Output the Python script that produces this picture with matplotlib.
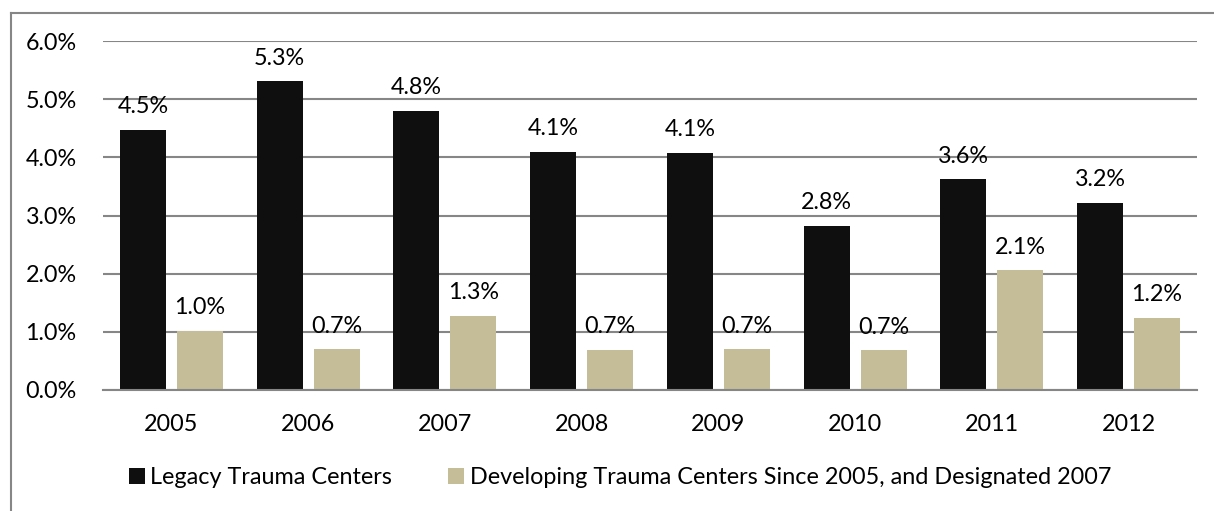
import matplotlib
matplotlib.use('Agg')
import matplotlib.pyplot as plt
import numpy as np
from matplotlib.lines import Line2D

years = ['2005', '2006', '2007', '2008', '2009', '2010', '2011', '2012']
legacy = [4.47, 5.31, 4.80, 4.10, 4.08, 2.82, 3.62, 3.22]
developing = [1.02, 0.70, 1.28, 0.69, 0.70, 0.68, 2.06, 1.24]
legacy_name = 'Legacy Trauma Centers'
developing_name = 'Developing Trauma Centers Since 2005, and Designated 2007'

plt.rcParams['font.family'] = ['Lato', 'DejaVu Sans']
fs = 16.8

fig = plt.figure(figsize=(12.14, 5.11), dpi=100)
ax = fig.add_axes([103/1214, 1-390/511, (1197-103)/1214, (390-41)/511])

x = np.arange(len(years))
w = 0.336
gap = 0.08
b1 = ax.bar(x - (w+gap)/2, legacy, w, color='#0f0f0f', label=legacy_name)
b2 = ax.bar(x + (w+gap)/2, developing, w, color='#c4bd97', label=developing_name)

for bars, vals in [(b1, legacy), (b2, developing)]:
    for r, v in zip(bars, vals):
        ax.annotate('%.1f%%' % round(v, 1), (r.get_x() + r.get_width()/2, v),
                    xytext=(0, 9), textcoords='offset points',
                    ha='center', va='bottom', fontsize=fs)

ax.set_ylim(0, 6)
ax.set_xlim(-0.5, len(years)-0.5)
ax.set_yticks(np.arange(0, 7))
ax.set_yticklabels(['%.1f%%' % t for t in range(7)], fontsize=fs)
ax.set_xticks(x)
ax.set_xticklabels(years, fontsize=fs)
ax.tick_params(length=0)
ax.tick_params(axis='y', pad=19)
ax.tick_params(axis='x', pad=17)
ax.yaxis.grid(True, color='#868686', linewidth=1.5)
ax.set_axisbelow(True)
for s in ['left', 'right', 'top']:
    ax.spines[s].set_visible(False)
ax.spines['bottom'].set_color('#868686')
ax.spines['bottom'].set_linewidth(1.5)

ax.legend(loc='center', bbox_to_anchor=(0.4726, -0.252), ncol=2, frameon=False,
          fontsize=fs, handlelength=0.68, handleheight=0.68, handletextpad=0.25,
          columnspacing=2.4)

# chart frame (only left and top edges fall inside the image)
fig.add_artist(Line2D([10.5/1214, 10.5/1214], [0, 1-13.5/511], transform=fig.transFigure,
                      color='#868686', linewidth=1.5))
fig.add_artist(Line2D([10.5/1214, 1], [1-13.5/511, 1-13.5/511], transform=fig.transFigure,
                      color='#868686', linewidth=1.5))

fig.savefig('out.png', dpi=100)
